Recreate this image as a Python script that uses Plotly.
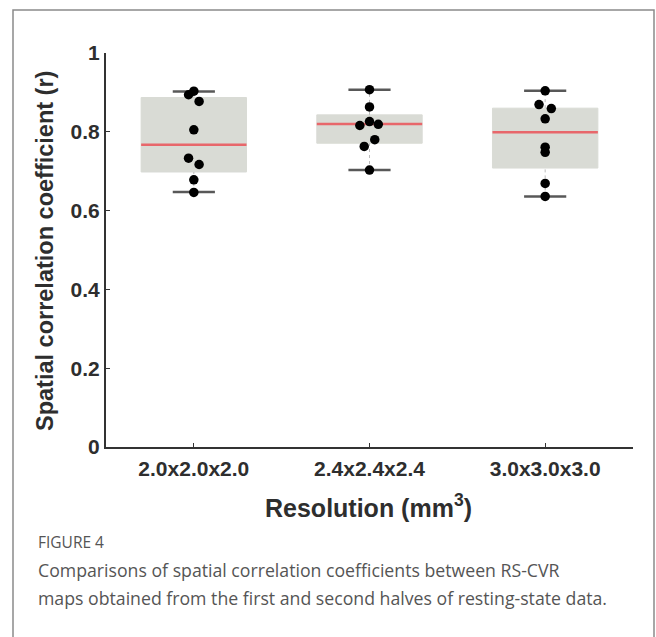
import plotly.graph_objects as go

# ---- data ----
categories = ["2.0x2.0x2.0", "2.4x2.4x2.4", "3.0x3.0x3.0"]
cat_pos = [1, 2, 3]
q1 = [0.698, 0.771, 0.708]
median = [0.767, 0.820, 0.799]
q3 = [0.887, 0.843, 0.860]
lower_whisker = [0.647, 0.703, 0.636]
upper_whisker = [0.902, 0.907, 0.904]

points_g1 = [0.894, 0.903, 0.877, 0.805, 0.733, 0.717, 0.678, 0.646]
jitter_g1 = [-0.03, 0.0, 0.03, 0.0, -0.03, 0.03, 0.0, 0.0]
points_g2 = [0.907, 0.863, 0.826, 0.816, 0.819, 0.780, 0.763, 0.703]
jitter_g2 = [0.0, 0.0, 0.0, -0.055, 0.05, 0.03, -0.03, 0.0]
points_g3 = [0.904, 0.869, 0.859, 0.833, 0.761, 0.748, 0.669, 0.636]
jitter_g3 = [0.0, -0.035, 0.035, 0.0, 0.0, 0.0, 0.0, 0.0]

y_tickvals = [0, 0.2, 0.4, 0.6, 0.8, 1.0]
y_ticktext = ["0", "0.2", "0.4", "0.6", "0.8", "1"]

BOX_W = 0.6
CAP_W = 0.24
box_fill = "#d9dbd5"
median_col = "#e8676b"
cap_col = "#585858"
axis_col = "#333333"
txt_col = "#2e2e2e"
FONT = "Liberation Sans, Arial, sans-serif"

fig = go.Figure()

# boxes (whisker-less; whiskers drawn separately)
for i in range(3):
    fig.add_trace(go.Box(
        x=[cat_pos[i]], q1=[q1[i]], median=[median[i]], q3=[q3[i]],
        lowerfence=[q1[i]], upperfence=[q3[i]],
        width=BOX_W, fillcolor=box_fill,
        line=dict(color=box_fill, width=1),
        whiskerwidth=0, boxpoints=False, showlegend=False, hoverinfo="skip"))

# whisker stems (faint dotted)
for i in range(3):
    for a, b in [(lower_whisker[i], q1[i]), (q3[i], upper_whisker[i])]:
        fig.add_trace(go.Scatter(
            x=[cat_pos[i], cat_pos[i]], y=[a, b], mode="lines",
            line=dict(color="#bbbbbb", width=1, dash="dot"),
            showlegend=False, hoverinfo="skip"))

# medians
for i in range(3):
    fig.add_trace(go.Scatter(
        x=[cat_pos[i] - BOX_W / 2, cat_pos[i] + BOX_W / 2], y=[median[i], median[i]],
        mode="lines", line=dict(color=median_col, width=2.5),
        showlegend=False, hoverinfo="skip"))

# caps
for i in range(3):
    for v in (lower_whisker[i], upper_whisker[i]):
        fig.add_trace(go.Scatter(
            x=[cat_pos[i] - CAP_W / 2, cat_pos[i] + CAP_W / 2], y=[v, v],
            mode="lines", line=dict(color=cap_col, width=2.5),
            showlegend=False, hoverinfo="skip"))

# points
for i, (pts, jit) in enumerate([(points_g1, jitter_g1), (points_g2, jitter_g2), (points_g3, jitter_g3)]):
    fig.add_trace(go.Scatter(
        x=[cat_pos[i] + j for j in jit], y=pts, mode="markers",
        marker=dict(color="#000000", size=9.5),
        showlegend=False, hoverinfo="skip"))

L, R, T, B = 106, 23, 53, 190
W, H = 656, 637
pw, ph = W - L - R, H - T - B


def px(xp):
    return (xp - L) / pw


def py(yp):
    return (H - B - yp) / ph


fig.update_layout(
    width=W, height=H,
    margin=dict(l=L, r=R, t=T, b=B),
    paper_bgcolor="white", plot_bgcolor="white",
    font=dict(family=FONT, color=txt_col),
    xaxis=dict(range=[0.5, 3.5], tickvals=cat_pos, ticktext=categories,
               showline=True, linecolor=axis_col, linewidth=2,
               ticks="inside", ticklen=4, tickcolor=axis_col, tickwidth=1,
               showgrid=False, zeroline=False, ticklabelstandoff=2,
               tickfont=dict(size=21, color=txt_col, family=FONT, weight="bold")),
    yaxis=dict(range=[0, 1], tickvals=y_tickvals, ticktext=y_ticktext,
               showline=True, linecolor=axis_col, linewidth=2,
               ticks="inside", ticklen=4, tickcolor=axis_col, tickwidth=1,
               showgrid=False, zeroline=False,
               tickfont=dict(size=21, color=txt_col, family=FONT, weight="bold")),
)

annotations = [
    dict(text="Spatial correlation coefficient (r)", textangle=-90,
         x=px(45), y=py(251), xref="paper", yref="paper",
         xanchor="center", yanchor="middle", showarrow=False,
         font=dict(size=23.5, color=txt_col, family=FONT, weight="bold")),
    dict(text="Resolution (mm<sup>3</sup>)",
         x=px(368), y=py(506), xref="paper", yref="paper",
         xanchor="center", yanchor="middle", showarrow=False,
         font=dict(size=25, color=txt_col, family=FONT, weight="bold")),
    dict(text="FIGURE 4",
         x=px(36), y=py(542), xref="paper", yref="paper",
         xanchor="left", yanchor="middle", showarrow=False,
         font=dict(size=15.5, color="#555555", family="Open Sans, sans-serif")),
    dict(text="Comparisons of spatial correlation coefficients between RS-CVR",
         x=px(36), y=py(570), xref="paper", yref="paper",
         xanchor="left", yanchor="middle", showarrow=False,
         font=dict(size=17.7, color="#555555", family="Open Sans, sans-serif")),
    dict(text="maps obtained from the first and second halves of resting-state data.",
         x=px(36), y=py(598), xref="paper", yref="paper",
         xanchor="left", yanchor="middle", showarrow=False,
         font=dict(size=17.7, color="#555555", family="Open Sans, sans-serif")),
]
fig.update_layout(annotations=annotations)

# outer frame of the figure panel
fig.add_shape(type="rect", xref="paper", yref="paper",
              x0=px(13), x1=px(654), y0=py(645), y1=py(10),
              line=dict(color="#8a8a8a", width=1.5), fillcolor="rgba(0,0,0,0)", layer="below")

fig.write_html("out.html", config={"displayModeBar": False},
               post_script="document.body.style.margin='0px';")
